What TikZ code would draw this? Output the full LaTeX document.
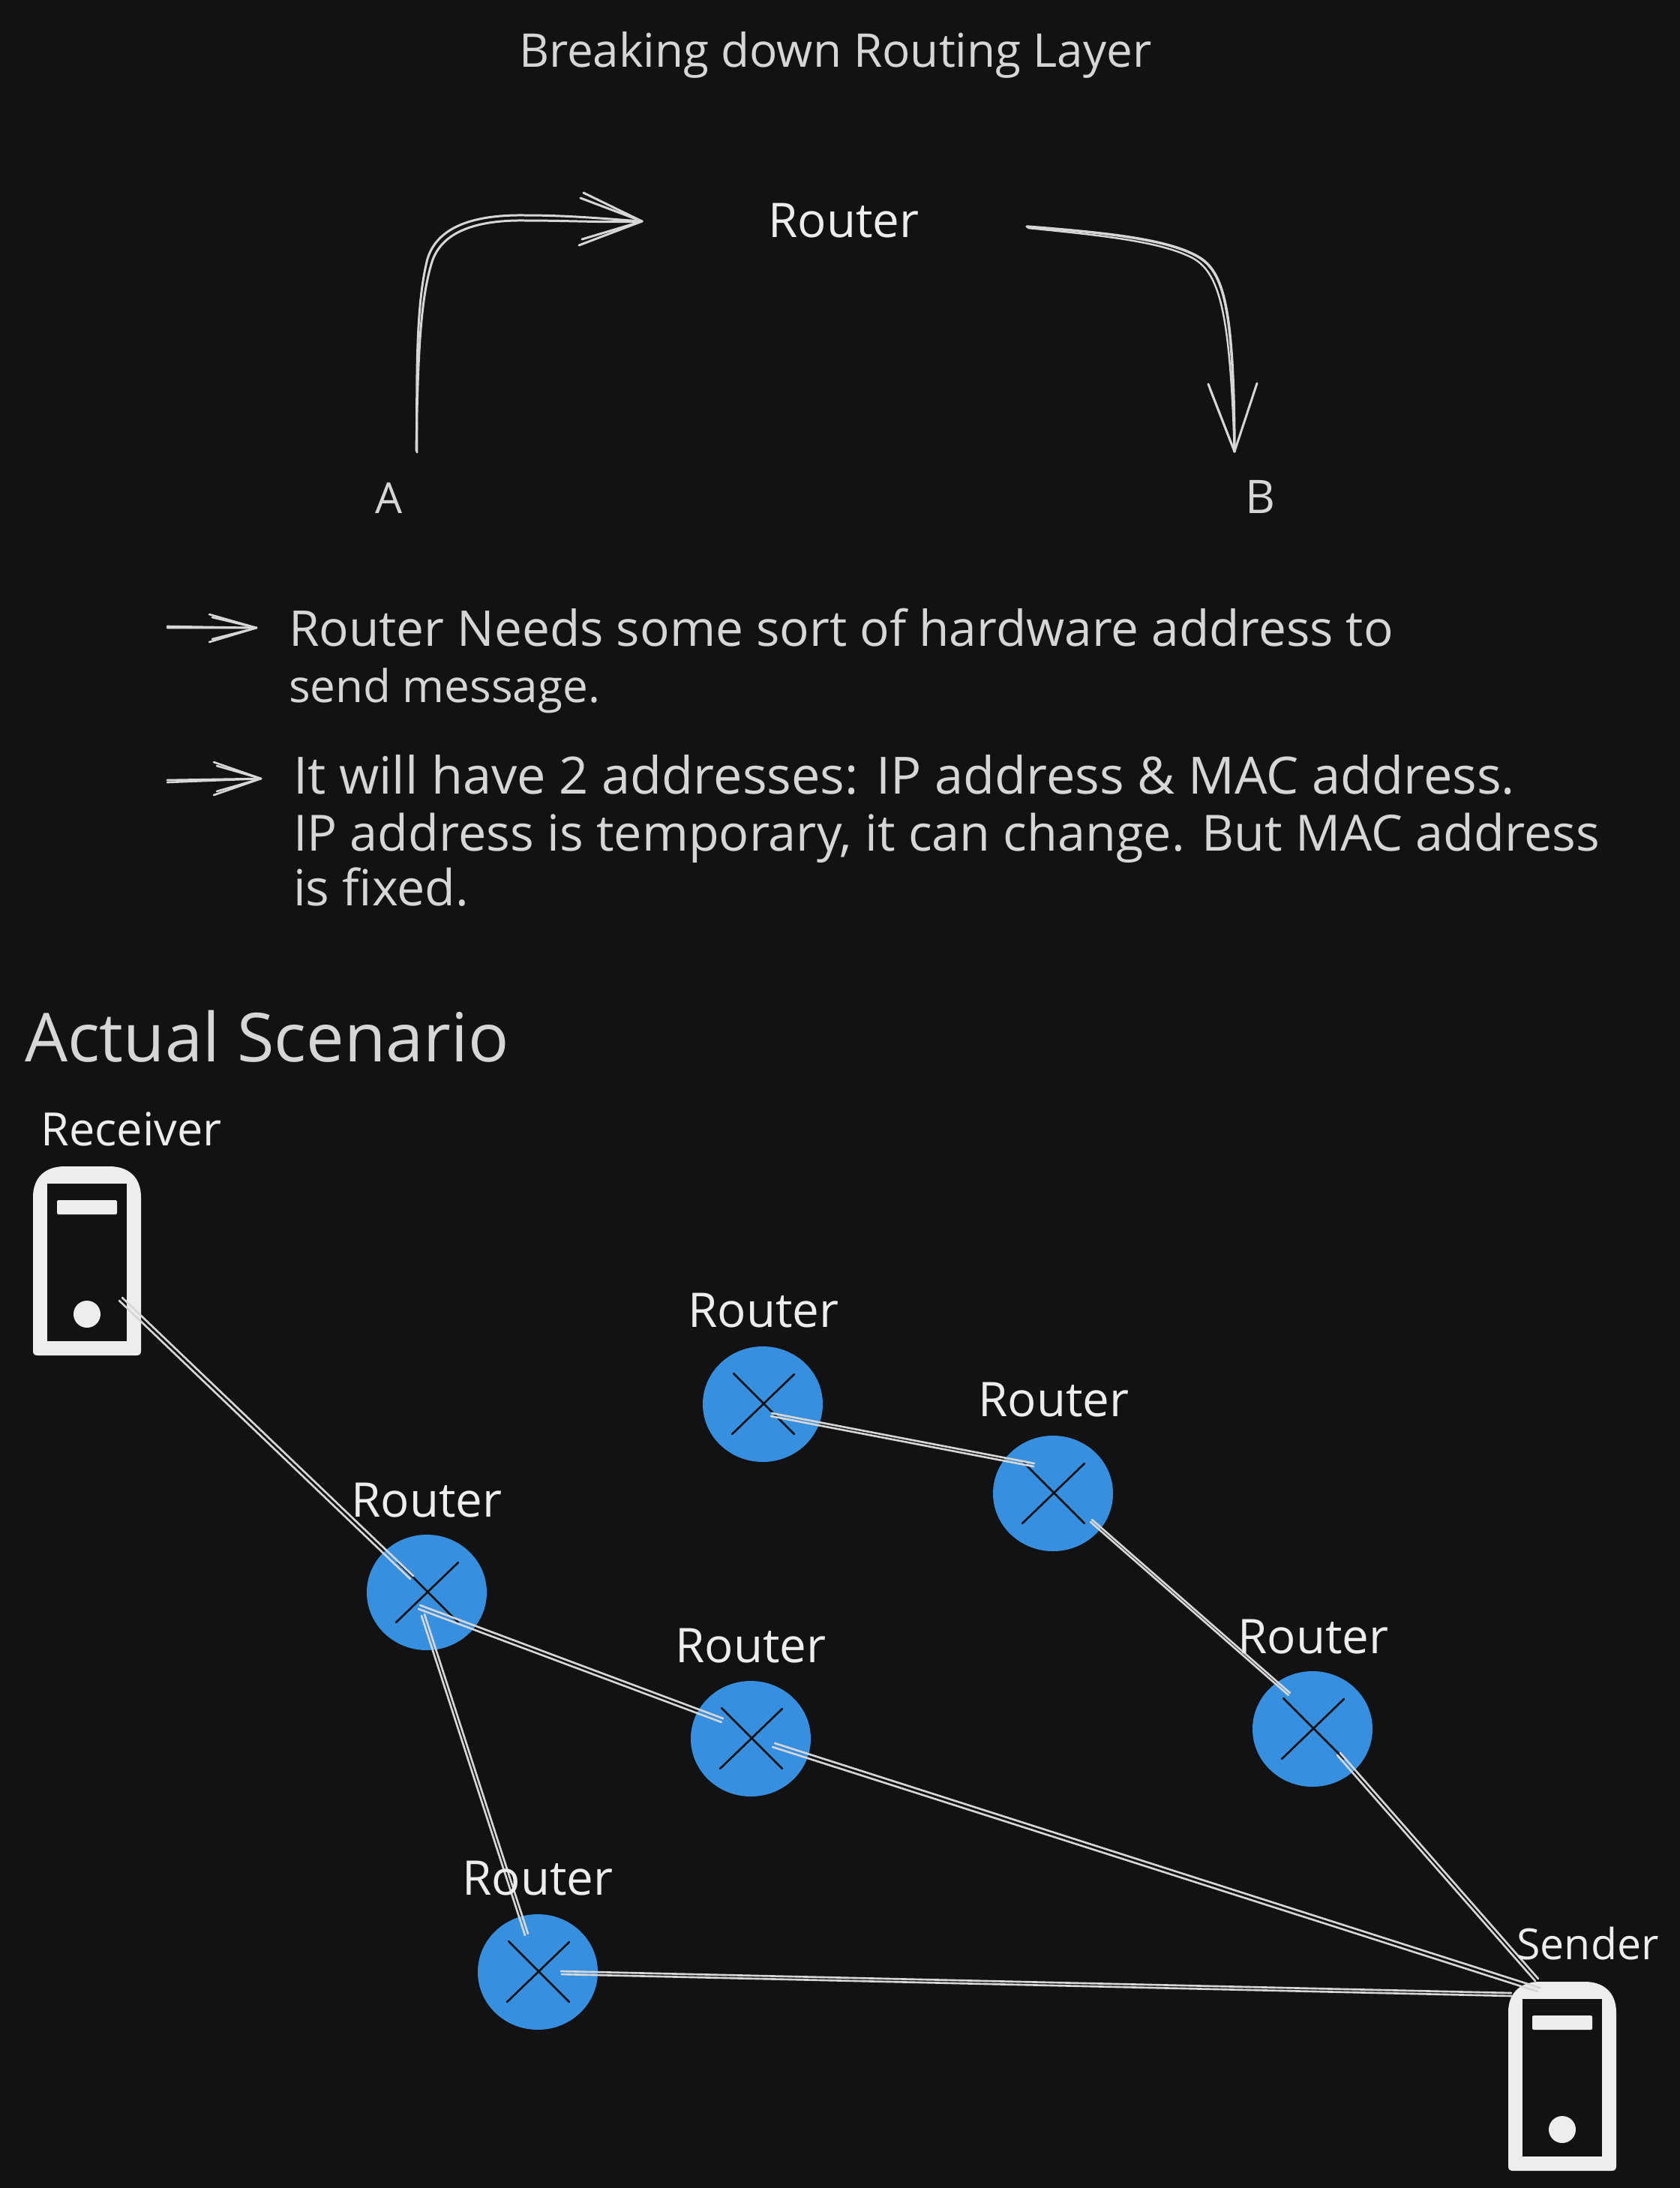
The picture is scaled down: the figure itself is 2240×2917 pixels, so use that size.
\documentclass[tikz,border=0pt]{standalone}
\usepackage{fontspec}
\usepackage{graphicx}
\setmainfont{Open Sans}
\definecolor{bgc}{HTML}{121212}
\definecolor{inkc}{HTML}{D6D6D6}
\definecolor{lblc}{HTML}{EDEDED}
\definecolor{bluec}{HTML}{368FDF}
\tikzset{
  wire/.style={draw=inkc,line width=0.75pt,line cap=round,line join=round},
  txt/.style={inner sep=0pt,outer sep=0pt,text=inkc,anchor=base west},
  lbl/.style={inner sep=0pt,outer sep=0pt,text=lblc,anchor=base},
  crossl/.style={draw=bgc,line width=0.75pt,line cap=round},
  anchorpt/.style={inner sep=0pt,minimum size=0pt}
}
\usetikzlibrary{calc}
\newcommand{\fitw}[2]{\resizebox{#1cm}{!}{\strut #2}}
\newcommand{\routernode}[3]{%
  \node[anchorpt] (#1) at (#2,#3) {};
  \fill[bluec] (#1.center) ellipse [x radius=80,y radius=77];
  \draw[crossl] ([shift={(-39,-41)}]#1.center) -- ([shift={(42,40)}]#1.center);
  \draw[crossl] ([shift={(-41,40)}]#1.center) -- ([shift={(42,-40)}]#1.center);
}
\newcommand{\servericon}[3]{%
  \node[anchorpt] (#1) at (#2,#3) {};
  \begin{scope}[shift={(#1.center)}]
    \fill[lblc] (-72,120) -- (-72,-85) .. controls (-72,-112) and (-55,-126) .. (-30,-126) -- (30,-126) .. controls (55,-126) and (72,-112) .. (72,-85) -- (72,120) .. controls (72,124) and (70,126) .. (66,126) -- (-66,126) .. controls (-70,126) and (-72,124) .. (-72,120) -- cycle;
    \fill[bgc] (-53,-103) rectangle (53,107);
    \fill[lblc,rounded corners=0.02cm] (-40,-81) rectangle (40,-62);
    \fill[lblc] (0,71) circle [radius=18];
  \end{scope}
}
\newcommand{\wirelink}[8]{%
  \draw[wire] ([shift={(#2,#3)}]#1.center) -- ([shift={(#5,#6)}]#4.center);
  \draw[wire] ([shift={(#2+#7,#3+#8)}]#1.center) -- ([shift={(#5+#7,#6+#8)}]#4.center);
}
\begin{document}
\begin{tikzpicture}[x=0.01cm,y=-0.01cm]
\useasboundingbox (0,0) rectangle (2240,2917);
\fill[bgc] (0,0) rectangle (2240,2917);

% title
\node[txt] (title) at (692,89) {\fitw{8.43}{Breaking down Routing Layer}};

% top diagram
\node[lbl] (topr) at (1125,316) {\fitw{2.01}{Router}};
\node[lbl,text=inkc] (nodeA) at (519,684) {\fitw{0.36}{A}};
\node[lbl,text=inkc] (nodeB) at (1680,684) {\fitw{0.40}{B}};

\draw[wire,line width=0.85pt] ([shift={(37,-81)}]nodeA.base) .. controls (555,480) and (556,400) .. (570,345) .. controls (583,303) and (630,286) .. (700,287) .. controls (760,287) and (810,292) .. ([shift={(-269,-21)}]topr.base);
\draw[wire,line width=0.85pt] ([shift={(36,-83)}]nodeA.base) .. controls (557,480) and (560,400) .. (576,349) .. controls (589,309) and (635,293) .. (700,294) .. controls (760,294) and (810,297) .. ([shift={(-269,-21)}]topr.base);
\draw[wire,line width=0.85pt] (778,257) -- ([shift={(-269,-21)}]topr.base) -- (772,327);
\draw[wire,line width=0.85pt] (774,264) -- ([shift={(-269,-21)}]topr.base) -- (776,319);

\draw[wire,line width=1pt] ([shift={(244,-14)}]topr.base) .. controls (1470,310) and (1555,318) .. (1597,342) .. controls (1632,362) and (1645,410) .. ([shift={(-34,-82)}]nodeB.base);
\draw[wire,line width=0.7pt] ([shift={(246,-12)}]topr.base) .. controls (1470,314) and (1550,322) .. (1592,345) .. controls (1627,366) and (1640,420) .. ([shift={(-34,-82)}]nodeB.base);
\draw[wire,line width=0.85pt] (1611,512) -- ([shift={(-34,-82)}]nodeB.base) -- (1676,511);
\draw[wire,line width=0.7pt] (1613,518) -- ([shift={(-34,-82)}]nodeB.base);

% bullet arrows
\coordinate (ba) at (223,835);
\coordinate (bb) at (342,837);
\coordinate (ca) at (223,1040);
\coordinate (cb) at (348,1038);
\draw[wire] (ba) -- (bb);
\draw[wire] ([yshift=-0.02cm]ba) -- (bb);
\draw[wire] (279,819) -- (bb) -- (279,856);
\draw[wire] (283,823) -- (bb) -- (283,852);
\draw[wire] (ca) -- (cb);
\draw[wire] ([yshift=-0.03cm]ca) -- (cb);
\draw[wire] (285,1016) -- (cb) -- (285,1060);
\draw[wire] (289,1021) -- (cb) -- (289,1055);

% body text
\node[txt] (t1) at (385,861) {\fitw{14.72}{Router Needs some sort of hardware address to}};
\node[txt] (t2) at (385,936) {\fitw{4.15}{send message.}};
\node[txt] (t3) at (391,1058) {\fitw{16.28}{It will have 2 addresses: IP address \& MAC address.}};
\node[txt] (t4) at (391,1134) {\fitw{17.41}{IP address is temporary, it can change. But MAC address}};
\node[txt] (t5) at (391,1207) {\fitw{2.34}{is fixed.}};

\node[txt] (heading) at (33,1415) {\fitw{6.45}{Actual Scenario}};

% servers
\servericon{rcv}{116}{1681}
\servericon{snd}{2083}{2768}

% routers
\routernode{rA}{569}{2123}
\routernode{rB}{1017}{1872}
\routernode{rC}{1404}{1991}
\routernode{rD}{1750}{2305}
\routernode{rE}{1001}{2318}
\routernode{rF}{717}{2629}

% links
\wirelink{rcv}{47}{49}{rA}{-18}{-22}{-4}{4}
\wirelink{rA}{-11}{22}{rE}{-39}{-22}{2}{-5}
\wirelink{rA}{-7}{31}{rF}{-17}{-49}{4}{-2}
\wirelink{rF}{31}{-1}{snd}{-68}{-111}{1}{4}
\wirelink{rE}{32}{6}{snd}{-30}{-118}{-3}{5}
\wirelink{rD}{37}{32}{snd}{-32}{-130}{-4}{3}
\wirelink{rB}{11}{16}{rC}{-26}{-36}{1}{-4}
\wirelink{rC}{52}{35}{rD}{-30}{-48}{-2}{3}

% labels
\node[lbl] (lrcv) at (175,1527) {\fitw{2.41}{Receiver}};
\node[lbl] (lsnd) at (2117,2612) {\fitw{1.89}{Sender}};
\node[lbl] (lA) at (569,2022) {\fitw{2.01}{Router}};
\node[lbl] (lB) at (1018,1769) {\fitw{2.01}{Router}};
\node[lbl] (lC) at (1405,1888) {\fitw{2.01}{Router}};
\node[lbl] (lD) at (1751,2204) {\fitw{2.01}{Router}};
\node[lbl] (lE) at (1001,2216) {\fitw{2.01}{Router}};
\node[lbl] (lF) at (717,2526) {\fitw{2.01}{Router}};
\end{tikzpicture}
\end{document}
